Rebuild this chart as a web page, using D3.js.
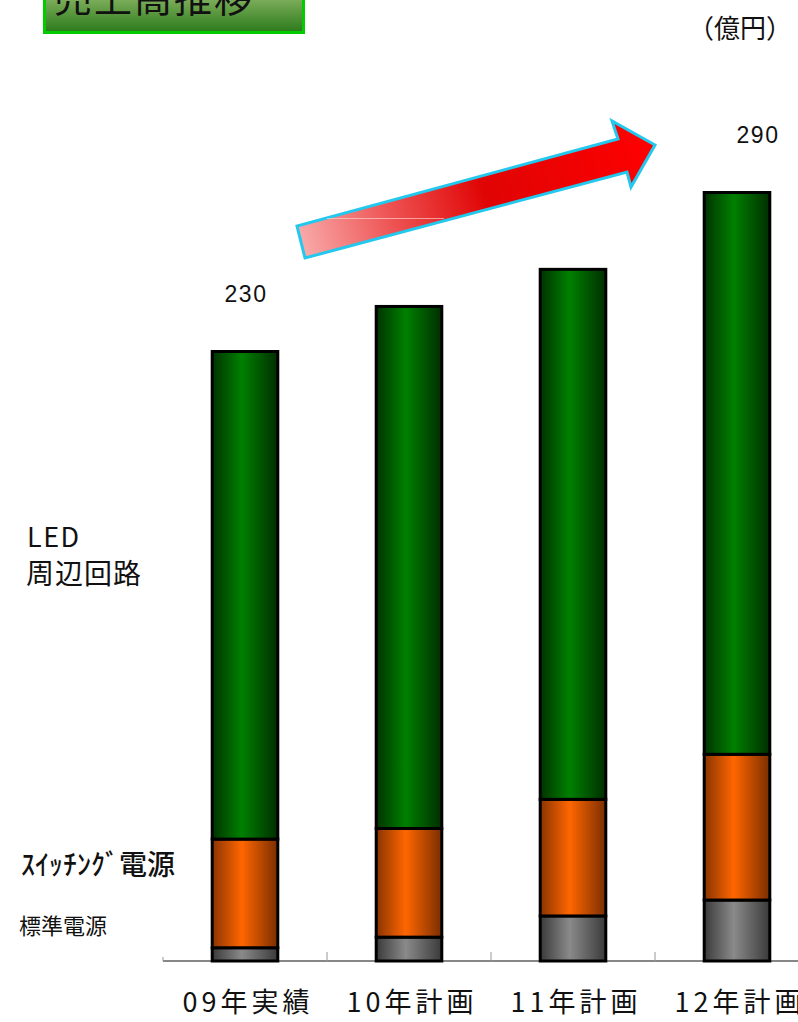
<!DOCTYPE html>
<html lang="ja">
<head>
<meta charset="utf-8">
<script src="https://cdn.jsdelivr.net/npm/d3@7"></script>
<style>
  html, body { margin: 0; padding: 0; background: #fff; }
  svg { display: block; font-family: "Noto Sans CJK JP", "Noto Sans", sans-serif; }
</style>
</head>
<body>
<svg id="chart" width="798" height="1022"></svg>
<script>
// 売上高推移 (億円) — stacked by segment
const categories = ["09年実績", "10年計画", "11年計画", "12年計画"];
const seriesNames = ["標準電源", "ｽｲｯﾁﾝｸﾞ電源", "LED周辺回路"];
const standardPower = [5, 9, 17, 23];
const switchingPower = [41, 41, 44, 55];
const ledCircuit = [184, 197, 200, 212];
const totalLabels = [230, null, null, 290];

const svg = d3.select("#chart");
const defs = svg.append("defs");

const baseY = 961;
const x = d3.scaleBand().domain(categories).range([163, 819]).padding(0);
const y = d3.scaleLinear().domain([0, 300]).range([baseY, 166]);
const barW = x.bandwidth() * 0.4;

// cylinder-like horizontal shading for each segment
function hGrad(id, edgeL, mid, edgeR) {
  const g = defs.append("linearGradient").attr("id", id)
    .attr("x1", "0%").attr("x2", "100%").attr("y1", "0%").attr("y2", "0%");
  g.append("stop").attr("offset", "0%").attr("stop-color", edgeL);
  g.append("stop").attr("offset", "45%").attr("stop-color", mid);
  g.append("stop").attr("offset", "100%").attr("stop-color", edgeR);
}
hGrad("gGray", "#3a3a3a", "#8a8a8a", "#3a3a3a");
hGrad("gOrange", "#8a3400", "#ff6600", "#7a2e00");
hGrad("gGreen", "#003300", "#008000", "#002e00");
const fills = ["url(#gGray)", "url(#gOrange)", "url(#gGreen)"];

const rows = categories.map((c, i) => ({
  cat: c,
  "標準電源": standardPower[i],
  "ｽｲｯﾁﾝｸﾞ電源": switchingPower[i],
  "LED周辺回路": ledCircuit[i]
}));
const stacked = d3.stack().keys(seriesNames)(rows);

// axis line and inner ticks at category boundaries
svg.append("line")
  .attr("x1", 163).attr("x2", 819).attr("y1", baseY).attr("y2", baseY)
  .attr("stroke", "#111").attr("stroke-width", 1.2);
const boundaries = categories.map(c => x(c));
svg.selectAll("line.tick").data(boundaries).join("line")
  .attr("class", "tick")
  .attr("x1", d => d).attr("x2", d => d)
  .attr("y1", baseY).attr("y2", (d, i) => baseY - (i === 0 ? 4 : 9))
  .attr("stroke", "#999").attr("stroke-width", 1);

// stacked segments
stacked.forEach((layer, li) => {
  svg.append("g").selectAll("rect").data(layer).join("rect")
    .attr("x", d => x(d.data.cat) + (x.bandwidth() - barW) / 2)
    .attr("y", d => y(d[1]))
    .attr("width", barW)
    .attr("height", d => y(d[0]) - y(d[1]))
    .attr("fill", fills[li])
    .attr("stroke", "#000")
    .attr("stroke-width", 3);
});

// total value labels
const labelDx = [0, 0, 0, 20];
svg.append("g").selectAll("text").data(categories.map((c, i) => ({ c, v: totalLabels[i], i })).filter(d => d.v != null))
  .join("text")
  .attr("x", d => x(d.c) + x.bandwidth() / 2 + labelDx[d.i] + 1)
  .attr("y", d => y(d.v) - 50)
  .attr("text-anchor", "middle")
  .attr("font-family", "'Liberation Sans', Arial, sans-serif")
  .attr("font-size", 23)
  .attr("letter-spacing", 1.5)
  .attr("fill", "#111")
  .text(d => d.v);

// category labels
svg.append("g").selectAll("text").data(categories).join("text")
  .attr("x", d => x(d) + x.bandwidth() / 2 + 3)
  .attr("y", 1012)
  .attr("text-anchor", "middle")
  .attr("font-size", 27)
  .attr("letter-spacing", 4)
  .attr("fill", "#111")
  .text(d => d);

// segment names on the left
const side = svg.append("g").attr("fill", "#111");
side.append("text").attr("x", 27).attr("y", 547).attr("font-size", 27).attr("letter-spacing", 1.5).text("LED");
side.append("text").attr("x", 26).attr("y", 584).attr("font-size", 28).attr("letter-spacing", 1).text("周辺回路");
side.append("text").attr("x", 21).attr("y", 875).attr("font-size", 28).attr("font-weight", 500).text("ｽｲｯﾁﾝｸﾞ電源");
side.append("text").attr("x", 19).attr("y", 934).attr("font-size", 22).text("標準電源");

// unit
svg.append("text").attr("x", 688).attr("y", 38).attr("font-size", 26).attr("fill", "#111").text("（億円）");

// title box
const tg = defs.append("linearGradient").attr("id", "gTitle")
  .attr("x1", "0%").attr("x2", "0%").attr("y1", "0%").attr("y2", "100%");
tg.append("stop").attr("offset", "0%").attr("stop-color", "#a6c98a");
tg.append("stop").attr("offset", "45%").attr("stop-color", "#7fae5c");
tg.append("stop").attr("offset", "100%").attr("stop-color", "#2a7a1a");
svg.append("rect").attr("x", 44.5).attr("y", -30).attr("width", 259).attr("height", 62.5)
  .attr("fill", "url(#gTitle)").attr("stroke", "#00cc00").attr("stroke-width", 3);
svg.append("text").attr("x", 54).attr("y", 12).attr("font-size", 38).attr("letter-spacing", 2)
  .attr("fill", "#111").text("売上高推移");

// growth arrow
const ag = defs.append("linearGradient").attr("id", "gArrow")
  .attr("gradientUnits", "userSpaceOnUse")
  .attr("x1", 300).attr("y1", 242).attr("x2", 655).attr("y2", 145);
ag.append("stop").attr("offset", "0%").attr("stop-color", "#f9aaaa");
ag.append("stop").attr("offset", "25%").attr("stop-color", "#ee5555");
ag.append("stop").attr("offset", "52%").attr("stop-color", "#e00404");
ag.append("stop").attr("offset", "100%").attr("stop-color", "#ff0000");
const arrowPts = [[305, 258], [297, 226], [618, 139], [612, 121], [655, 145], [631, 187], [627, 172]];
svg.append("path")
  .attr("d", d3.line()(arrowPts) + "Z")
  .attr("fill", "url(#gArrow)")
  .attr("stroke", "#22c8ee").attr("stroke-width", 3).attr("stroke-linejoin", "miter");
svg.append("line").attr("x1", 327).attr("x2", 444).attr("y1", 218.5).attr("y2", 218.5)
  .attr("stroke", "#ffd8d8").attr("stroke-width", 0.8).attr("opacity", 0.8);
</script>
</body>
</html>
